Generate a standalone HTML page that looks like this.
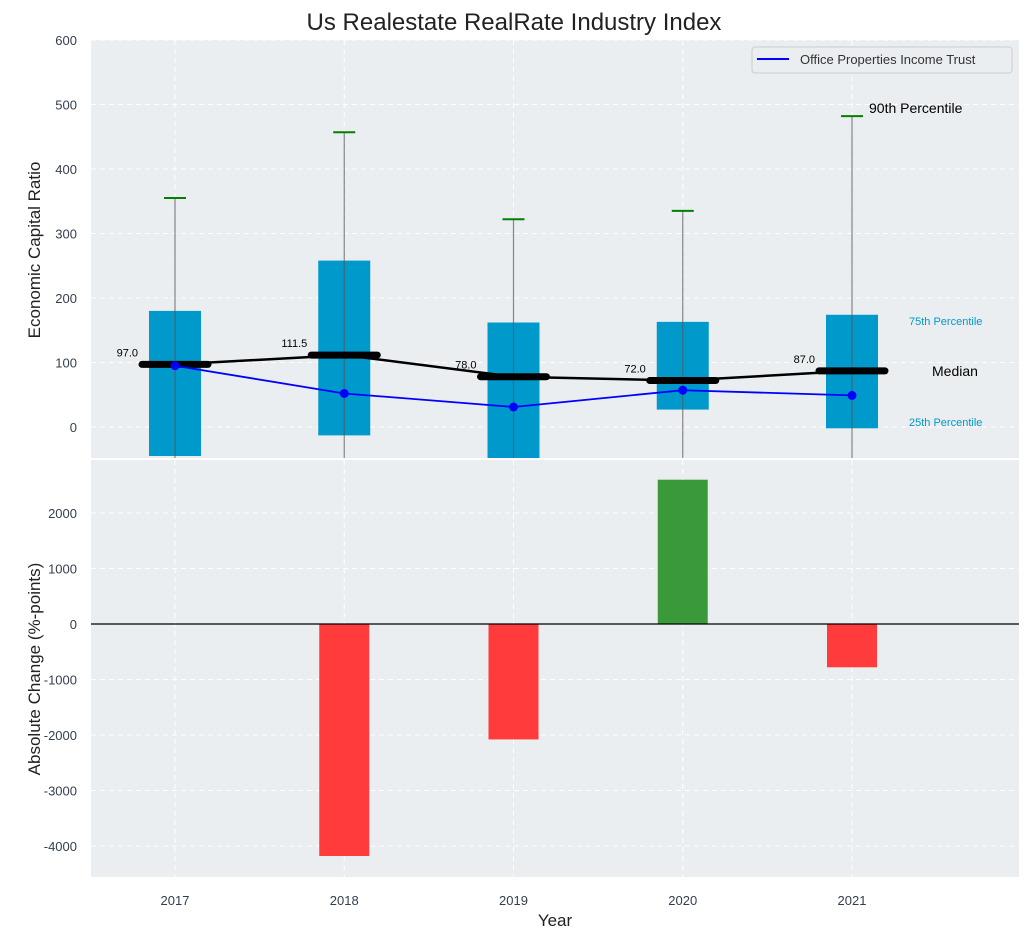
<!DOCTYPE html>
<html><head><meta charset="utf-8"><style>
body{margin:0;background:#fff;font-family:"Liberation Sans",sans-serif}
svg text{font-family:"Liberation Sans",sans-serif}
</style></head><body>
<svg id="c" width="1029" height="940" xmlns="http://www.w3.org/2000/svg"></svg>
<script>
const years=["2017","2018","2019","2020","2021"];
const q75=[180,258,162,163,174];
const q25=[-45,-13,-60,27,-2];
const p90=[355,457,322,335,482];
const medians=[97,111.5,78,72,87];
const medianLabels=["97.0","111.5","78.0","72.0","87.0"];
const company=[95,52,31,57,49];
const changes=[0,-4180,-2080,2600,-780];
const topTicks=[0,100,200,300,400,500,600];
const botTicks=[-4000,-3000,-2000,-1000,0,1000,2000];

const S=document.getElementById('c');const NS="http://www.w3.org/2000/svg";
function el(t,a,p){const e=document.createElementNS(NS,t);for(const k in a)e.setAttribute(k,a[k]);(p||S).appendChild(e);return e;}
const L=91,R=1019;
const x=i=>175+i*169.25;
const yT=v=>427-v*0.645;
const yB=v=>624-v*0.0555;
const T1=40,B1=458,T2=460,B2=877;
// backgrounds
let bg1=el('rect',{x:L,y:T1,width:R-L,height:B1-T1,fill:'#eaeef0'});

let bg2=el('rect',{x:L,y:T2,width:R-L,height:B2-T2,fill:'#eaeef0'});

const grid={stroke:'#fff','stroke-dasharray':'5,4','stroke-width':1};
topTicks.forEach(v=>{el('line',Object.assign({x1:L,x2:R,y1:yT(v),y2:yT(v)},grid));
 const t=el('text',{x:L-14,y:yT(v)+5,'text-anchor':'end','font-size':13,fill:'#333f4f'});t.textContent=v;
 });
botTicks.forEach(v=>{el('line',Object.assign({x1:L,x2:R,y1:yB(v),y2:yB(v)},grid));
 const t=el('text',{x:L-14,y:yB(v)+5,'text-anchor':'end','font-size':13,fill:'#333f4f'});t.textContent=v;
 });
years.forEach((yr,i)=>{el('line',Object.assign({x1:x(i),x2:x(i),y1:T1,y2:B1},grid));el('line',Object.assign({x1:x(i),x2:x(i),y1:T2,y2:B2},grid));
 const t=el('text',{x:x(i),y:905,'text-anchor':'middle','font-size':13,fill:'#333f4f'});t.textContent=yr;
 });
// top clip
const cp=el('clipPath',{id:'cl'});el('rect',{x:L,y:T1,width:R-L,height:B1-T1},cp);
const g=el('g',{'clip-path':'url(#cl)'});
years.forEach((yr,i)=>{
 const b=el('rect',{x:x(i)-26,y:yT(q75[i]),width:52,height:yT(q25[i])-yT(q75[i]),fill:'#0099cc'},g);
 
 const w=el('line',{x1:x(i),x2:x(i),y1:yT(p90[i]),y2:B1+5,stroke:'#555',"stroke-opacity":0.7,'stroke-width':1.2},g);
 
 const c=el('line',{x1:x(i)-11,x2:x(i)+11,y1:yT(p90[i]),y2:yT(p90[i]),stroke:'#008000','stroke-width':2},g);
 
});
let mp=years.map((_,i)=>x(i)+','+yT(medians[i])).join(' ');
el('polyline',{points:mp,fill:'none',stroke:'#000','stroke-width':2.5},g);
years.forEach((yr,i)=>{const m=el('line',{x1:x(i)-33,x2:x(i)+33,y1:yT(medians[i]),y2:yT(medians[i]),stroke:'#000','stroke-width':7,'stroke-linecap':'round'},g);
 
 const t=el('text',{x:x(i)-37,y:yT(medians[i])-8,'text-anchor':'end','font-size':11,fill:'#000'});t.textContent=medianLabels[i];
 });
let cpnts=years.map((_,i)=>x(i)+','+yT(company[i])).join(' ');
const cl=el('polyline',{points:cpnts,fill:'none',stroke:'#0000ff','stroke-width':1.8},g);

years.forEach((yr,i)=>{const d=el('circle',{cx:x(i),cy:yT(company[i]),r:4.5,fill:'#0000ff'},g);
 });
// annotations
[['90th Percentile',869,113,14,'#000','start'],['75th Percentile',909,325,11,'#0099cc','start'],['Median',932,376,14,'#000','start'],['25th Percentile',909,426,11,'#0099cc','start']].forEach(a=>{
 const t=el('text',{x:a[1],y:a[2],'font-size':a[3],fill:a[4]});t.textContent=a[0];
 });
// legend
const lg=el('g',{});
el('rect',{x:752,y:47,width:260,height:26,rx:3,fill:'#eaeef0',stroke:'#ccc'},lg);
el('line',{x1:757,x2:789,y1:59,y2:59,stroke:'#0000ff','stroke-width':2},lg);
const lt=el('text',{x:800,y:64,'font-size':13,fill:'#333'},lg);lt.textContent='Office Properties Income Trust';
// bottom bars
years.forEach((yr,i)=>{if(!changes[i])return;const v=changes[i];
 const b=el('rect',{x:x(i)-25,y:Math.min(yB(0),yB(v)),width:50,height:Math.abs(yB(v)-yB(0)),fill:v>0?'#3a9a3a':'#ff3b3b'});
 });
el('line',{x1:L,x2:R,y1:yB(0),y2:yB(0),stroke:'#000','stroke-width':1.2});
// titles
[['Us Realestate RealRate Industry Index',514,30,24,'#222',0],['Year',555,926,17,'#222',0]].forEach(a=>{const t=el('text',{x:a[1],y:a[2],'text-anchor':'middle','font-size':a[3],fill:a[4]});t.textContent=a[0];
 });
let yt=el('text',{x:0,y:0,'text-anchor':'middle','font-size':17,fill:'#222',transform:'translate(40,250) rotate(-90)'});yt.textContent='Economic Capital Ratio';

let yb=el('text',{x:0,y:0,'text-anchor':'middle','font-size':17,fill:'#222',transform:'translate(40,669) rotate(-90)'});yb.textContent='Absolute Change (%-points)';

</script></body></html>
